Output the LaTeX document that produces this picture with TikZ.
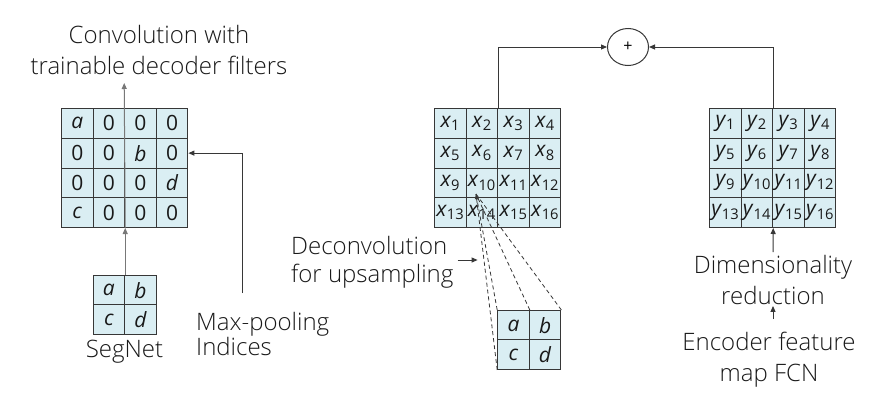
\documentclass[tikz,border=0pt]{standalone}
\usepackage{fontspec}
\setmainfont{Open Sans}
\newfontfamily\lightfont{Open Sans Light}
\usetikzlibrary{arrows.meta,shapes.geometric}
\definecolor{cellblue}{RGB}{218,238,243}
\definecolor{gridline}{RGB}{55,55,55}
\definecolor{txt}{RGB}{25,25,25}
\definecolor{lgray}{RGB}{120,120,120}
\begin{document}
\begin{tikzpicture}[x=1pt,y=-1pt,
  cell/.style={draw=gridline, line width=1pt, fill=cellblue, minimum width=31.6pt, minimum height=29.75pt, inner sep=0pt, anchor=north west, font=\fontsize{21}{23}\selectfont, text=txt},
  lbl/.style={font=\lightfont\fontsize{24}{31}\selectfont, text=txt, align=center, inner sep=0pt},
  arr/.style={-{Triangle[length=6pt,width=5pt]}, line width=1pt, draw=gridline},
  garr/.style={arr, draw=lgray},
  dsh/.style={dashed, dash pattern=on 4pt off 3pt, line width=0.8pt, draw=gridline}
]
\useasboundingbox (0,0) rectangle (888,407);
\fill[white] (0,0) rectangle (888,407);

% left big grid
\foreach \t [count=\k from 0] in {{\textit{a}},0,0,0,0,0,{\textit{b}},0,0,0,0,{\textit{d}},{\textit{c}},0,0,0}{
  \pgfmathtruncatemacro\r{int(\k/4)}\pgfmathtruncatemacro\c{mod(\k,4)}
  \node[cell] (L\k) at (61+\c*31.6, 108+\r*29.75) {\t};
}
% SegNet small grid
\foreach \t [count=\k from 0] in {{\textit{a}},{\textit{b}},{\textit{c}},{\textit{d}}}{
  \pgfmathtruncatemacro\r{int(\k/2)}\pgfmathtruncatemacro\c{mod(\k,2)}
  \node[cell] (S\k) at (92.6+\c*31.6, 275+\r*29.2) {\t};
}
% middle x grid
\foreach \k in {0,...,15}{
  \pgfmathtruncatemacro\r{int(\k/4)}\pgfmathtruncatemacro\c{mod(\k,4)}\pgfmathtruncatemacro\n{\k+1}
  \node[cell] (M\k) at (434+\c*31.6, 108+\r*29.75) {\textit{x}\textsubscript{\n}};
}
% right y grid
\foreach \k in {0,...,15}{
  \pgfmathtruncatemacro\r{int(\k/4)}\pgfmathtruncatemacro\c{mod(\k,4)}\pgfmathtruncatemacro\n{\k+1}
  \node[cell] (Y\k) at (709+\c*31.6, 108+\r*29.75) {\textit{y}\textsubscript{\n}};
}
% middle small grid
\foreach \t [count=\k from 0] in {{\textit{a}},{\textit{b}},{\textit{c}},{\textit{d}}}{
  \pgfmathtruncatemacro\r{int(\k/2)}\pgfmathtruncatemacro\c{mod(\k,2)}
  \node[cell] (D\k) at (497.2+\c*31.6, 310+\r*29.2) {\t};
}

% labels
\node[lbl] (conv) at (159,50) {Convolution with\\trainable decoder filters};
\node[lbl] (segnet) at (124.5,352) {SegNet};
\node[lbl, anchor=west, align=left, font=\lightfont\fontsize{24}{25}\selectfont] (maxp) at (196,334) {Max-pooling\\Indices};
\node[lbl, anchor=west, align=left, font=\lightfont\fontsize{24}{28}\selectfont] (deconv) at (291,262) {Deconvolution\\for upsampling};
\node[lbl] (dim) at (773,280) {Dimensionality\\reduction};
\node[lbl] (enc) at (769,360) {Encoder feature\\map FCN};
\node[ellipse, draw=gridline, line width=1pt, minimum width=41pt, minimum height=37pt, inner sep=0pt, font=\fontsize{16}{18}\selectfont] (plus) at (628,47) {+};

% left connectors
\coordinate (ltop) at (124.2,83);
\draw[garr] (S0.north east) -- (L13.south east);
\draw[garr] (L13.south east) -- (ltop);
\coordinate (mpstart) at (242,293);
\draw[arr] (mpstart) |- (L7.east);

% middle / right connectors
\draw[arr] (M1.north east) |- (plus.west);
\draw[arr] (Y1.north east) |- (plus.east);
\draw[arr] ([yshift=3pt]dim.north) -- (Y13.south east);
\path ([yshift=13pt]enc.north) coordinate (encTop);
\draw[arr] (encTop -| dim.south) -- ([yshift=-1pt]dim.south);
\draw[arr] ([xshift=4pt,yshift=2pt]deconv.east) -- ++(20,0);

% dashed deconvolution lines
\coordinate (focus) at (476,194);
\draw[dsh, -{Triangle[length=5pt,width=4pt]}] (D0.north west) -- (focus);
\draw[dsh] (D2.south west) -- (focus);
\draw[dsh] (D0.north east) -- (focus);
\draw[dsh] (D1.north east) -- (focus);
\end{tikzpicture}
\end{document}
